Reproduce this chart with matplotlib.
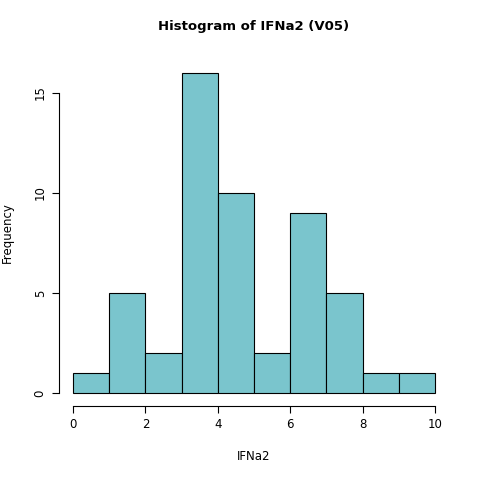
import matplotlib.pyplot as plt

# histogram of IFNa2 (V05), unit-width bins
bin_edges = [0, 1, 2, 3, 4, 5, 6, 7, 8, 9, 10]
counts = [1, 5, 2, 16, 10, 2, 9, 5, 1, 1]
x_ticks = [0, 2, 4, 6, 8, 10]
y_ticks = [0, 5, 10, 15]

fig = plt.figure(figsize=(4.8, 4.8), dpi=100)
ax = fig.add_axes([58.5 / 480, (480 - 405.8) / 480, 391 / 480, 345.6 / 480])

ax.bar(bin_edges[:-1], counts, width=1, align="edge",
       color="#7AC5CD", edgecolor="black", linewidth=0.8)

ax.set_xlim(-0.4, 10.4)
ax.set_ylim(-0.64, 16.64)
for side in ("top", "right"):
    ax.spines[side].set_visible(False)
ax.spines["bottom"].set_bounds(0, 10)
ax.spines["left"].set_bounds(0, 15)
ax.set_xticks(x_ticks)
ax.set_yticks(y_ticks)
ax.set_yticklabels([str(v) for v in y_ticks], rotation=90, va="center")
ax.tick_params(labelsize=8.5, length=5)

ax.set_title("Histogram of IFNa2 (V05)", fontsize=9.5, fontweight="bold", pad=22)
ax.set_xlabel("IFNa2", fontsize=8.5, labelpad=14)
ax.set_ylabel("Frequency", fontsize=8.5, labelpad=14)

fig.savefig("out.png")
